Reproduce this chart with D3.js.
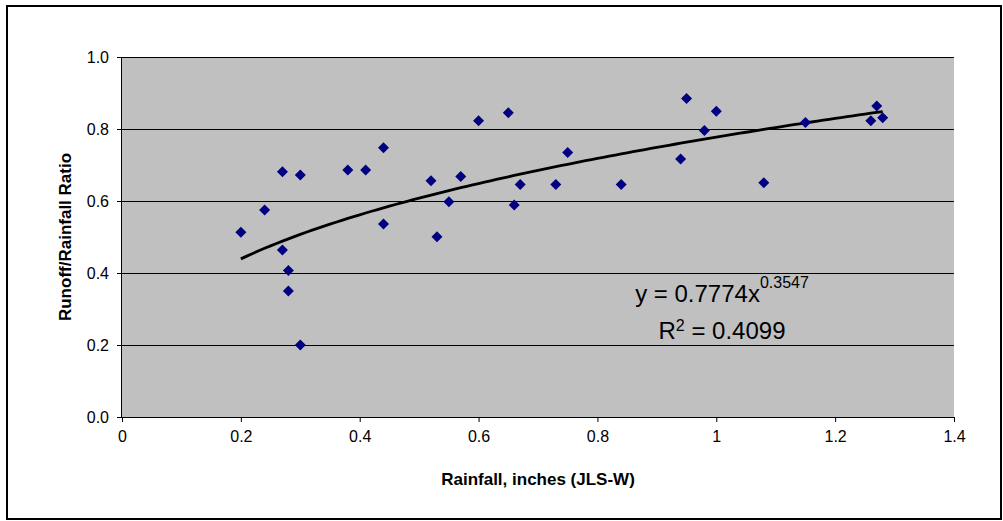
<!DOCTYPE html>
<html>
<head>
<meta charset="utf-8">
<script src="https://cdn.jsdelivr.net/npm/d3@7"></script>
<style>
  html, body { margin: 0; padding: 0; background: #fff; }
  svg { display: block; font-family: "Liberation Sans", Arial, sans-serif; }
</style>
</head>
<body>
<svg id="chart" width="1003" height="521"></svg>
<script>
// ---- data ----
const rainfall = [0.20, 0.24, 0.27, 0.27, 0.28, 0.28, 0.30, 0.30, 0.38, 0.41, 0.44, 0.44,
                  0.52, 0.53, 0.55, 0.57, 0.60, 0.65, 0.66, 0.67, 0.73, 0.75, 0.84, 0.94,
                  0.95, 0.98, 1.00, 1.08, 1.15, 1.26, 1.27, 1.28];
const ratio =    [0.513, 0.575, 0.681, 0.464, 0.407, 0.350, 0.672, 0.200, 0.686, 0.686, 0.748, 0.536,
                  0.656, 0.501, 0.598, 0.668, 0.823, 0.845, 0.589, 0.646, 0.646, 0.735, 0.646, 0.717,
                  0.885, 0.796, 0.849, 0.651, 0.818, 0.823, 0.864, 0.831];
const xTicks = [0, 0.2, 0.4, 0.6, 0.8, 1.0, 1.2, 1.4];
const yTicks = [0, 0.2, 0.4, 0.6, 0.8, 1.0];
const fitA = 0.7774, fitB = 0.3547, fitR2 = 0.4099;
const xTitle = "Rainfall, inches (JLS-W)";
const yTitle = "Runoff/Rainfall Ratio";

// ---- layout ----
const svg = d3.select("#chart");
const plot = { left: 122, right: 954, top: 57, bottom: 417 };
const x = d3.scaleLinear().domain([0, 1.4]).range([plot.left, plot.right]);
const y = d3.scaleLinear().domain([0, 1.0]).range([plot.bottom, plot.top]);

// outer border
svg.append("rect").attr("x", 7).attr("y", 6).attr("width", 994).attr("height", 513)
  .attr("fill", "#fff").attr("stroke", "#000").attr("stroke-width", 2);

// plot area
svg.append("rect").attr("x", plot.left).attr("y", plot.top)
  .attr("width", plot.right - plot.left).attr("height", plot.bottom - plot.top)
  .attr("fill", "#C0C0C0");

// gridlines
svg.append("g").selectAll("line").data(yTicks.filter(d => d > 0)).join("line")
  .attr("x1", plot.left).attr("x2", plot.right)
  .attr("y1", d => Math.round(y(d)) + 0.5).attr("y2", d => Math.round(y(d)) + 0.5)
  .attr("stroke", "#000").attr("stroke-width", 1).attr("shape-rendering", "crispEdges");

// axes
const xAxis = d3.axisBottom(x).tickValues(xTicks).tickSize(5).tickPadding(9)
  .tickFormat(d => d === 0 ? "0" : (d === 1 ? "1" : d3.format(".1f")(d)));
const gx = svg.append("g").attr("transform", `translate(0,${plot.bottom})`).call(xAxis);
gx.select(".domain").attr("stroke", "#000").attr("d", `M${plot.left - 5},0.5H${plot.right}`);
gx.selectAll(".tick line").attr("stroke", "#000");
gx.selectAll("text").attr("font-size", 16).attr("fill", "#000")
  .attr("font-family", "Liberation Sans, Arial, sans-serif");

const yAxis = d3.axisLeft(y).tickValues(yTicks).tickSize(5).tickPadding(8)
  .tickFormat(d3.format(".1f"));
const gy = svg.append("g").attr("transform", `translate(${plot.left},0)`).call(yAxis);
gy.select(".domain").attr("stroke", "#000").attr("d", `M-0.5,${plot.top}V${plot.bottom}`);
gy.selectAll(".tick line").attr("stroke", "#000");
gy.selectAll("text").attr("font-size", 16).attr("fill", "#000")
  .attr("font-family", "Liberation Sans, Arial, sans-serif");

// trendline (power fit from displayed coefficients)
const xMin = d3.min(rainfall), xMax = d3.max(rainfall);
const fitX = d3.range(xMin, xMax + 1e-9, 0.01);
const line = d3.line().x(d => x(d)).y(d => y(fitA * Math.pow(d, fitB)));
svg.append("path").datum(fitX).attr("d", line)
  .attr("fill", "none").attr("stroke", "#000").attr("stroke-width", 2.8);

// markers (diamonds)
const pts = rainfall.map((r, i) => [r, ratio[i]]);
const s = 5.5;
svg.append("g").selectAll("path").data(pts).join("path")
  .attr("d", d => `M${x(d[0])},${y(d[1]) - s}L${x(d[0]) + s},${y(d[1])}L${x(d[0])},${y(d[1]) + s}L${x(d[0]) - s},${y(d[1])}Z`)
  .attr("fill", "#000080");

// equation text
const eq = svg.append("text").attr("x", 722).attr("y", 302).attr("text-anchor", "middle")
  .attr("font-size", 24).attr("fill", "#000");
eq.append("tspan").text(`y = ${fitA}x`);
eq.append("tspan").attr("font-size", 16).attr("dy", -14).text(`${fitB}`);

const r2 = svg.append("text").attr("x", 722).attr("y", 339).attr("text-anchor", "middle")
  .attr("font-size", 24).attr("fill", "#000");
r2.append("tspan").text("R");
r2.append("tspan").attr("font-size", 16).attr("dy", -8).text("2");
r2.append("tspan").attr("dy", 8).text(` = ${fitR2}`);

// axis titles
svg.append("text").attr("x", (plot.left + plot.right) / 2).attr("y", 485)
  .attr("text-anchor", "middle").attr("font-size", 17).attr("font-weight", "bold")
  .attr("fill", "#000").text(xTitle);
svg.append("text").attr("transform", `translate(71,${(plot.top + plot.bottom) / 2}) rotate(-90)`)
  .attr("text-anchor", "middle").attr("font-size", 17).attr("font-weight", "bold")
  .attr("fill", "#000").text(yTitle);
</script>
</body>
</html>
